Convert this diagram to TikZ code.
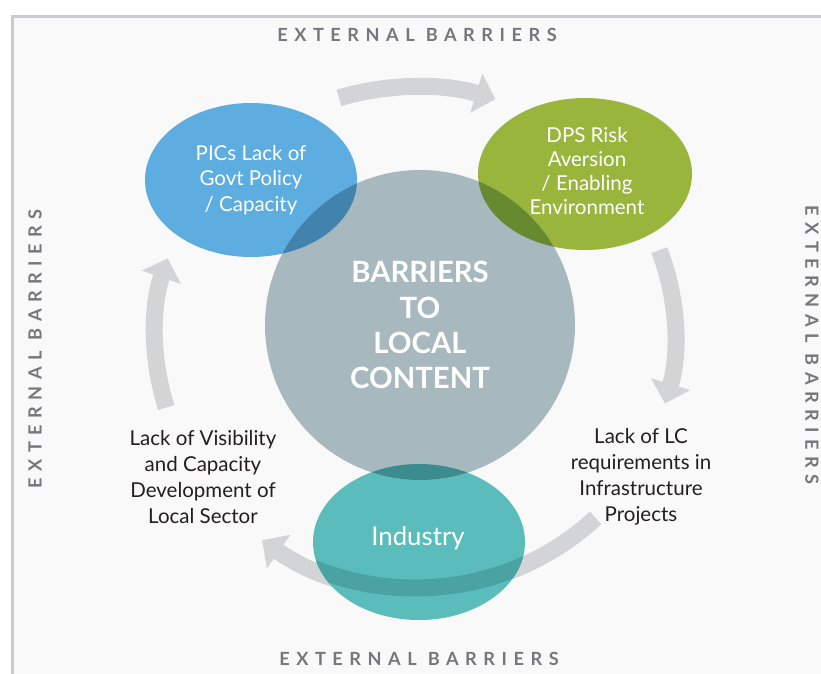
\documentclass[tikz,border=0pt]{standalone}
\usepackage{fontspec}
\setmainfont{Lato}
\newfontfamily\spacedfont[LetterSpace=36]{Lato}
\usetikzlibrary{arrows.meta}

\definecolor{framefill}{HTML}{F9F9F9}
\definecolor{framegray}{HTML}{CBCBCF}
\definecolor{titlegray}{HTML}{77777B}
\definecolor{arrowgray}{HTML}{D3D4D6}
\definecolor{picblue}{HTML}{5DADE0}
\definecolor{picbluedark}{HTML}{4283AD}
\definecolor{dpsgreen}{HTML}{9AB53B}
\definecolor{dpsgreendark}{HTML}{678A31}
\definecolor{industryteal}{HTML}{5BBDBB}
\definecolor{industrytealdark}{HTML}{3C8B8E}
\definecolor{industryband}{HTML}{4AA3A2}
\definecolor{barriergray}{HTML}{A8B8BF}
\definecolor{sidedark}{HTML}{231F20}

\tikzset{
  barrier/.style={font=\spacedfont\bfseries\fontsize{15.5}{18}\selectfont, text=titlegray},
  ringarrow/.style={draw=arrowgray, line width=0.51cm, -{Triangle[width=1.2cm,length=0.6cm]}},
  bubbletext/.style={align=center, text=white, font=\fontsize{17.5}{22}\selectfont},
  sidetext/.style={align=center, text=sidedark, font=\fontsize{17.5}{22.3}\selectfont},
}

\begin{document}
\begin{tikzpicture}[x=0.03cm, y=-0.03cm]

\useasboundingbox (0,0) rectangle (821,673);
\clip (0,0) rectangle (821,673);
\fill[white] (0,0) rectangle (821,673);
\draw[draw=framegray, fill=framefill, line width=0.09cm] (12,16) rectangle (840,700);

% ring of arrows
\draw[ringarrow, shift={(415,335)}] (-107:260 and 248) arc[start angle=-107, end angle=-72, x radius=260, y radius=248];
\draw[ringarrow, shift={(415,335)}] (-20:260 and 248) arc[start angle=-20, end angle=16, x radius=260, y radius=248];
\draw[ringarrow, shift={(415,338)}] (46:260 and 250) arc[start angle=46, end angle=126, x radius=260, y radius=250];
\draw[ringarrow, shift={(415,335)}] (163:260 and 248) arc[start angle=163, end angle=198, x radius=260, y radius=248];

% bubbles
\fill[picblue] (251,180) ellipse[x radius=106, y radius=77];
\fill[dpsgreen] (585,174) ellipse[x radius=107, y radius=76];
\fill[industryteal] (419,542) ellipse[x radius=106, y radius=78];
\fill[barriergray] (420,325) circle[radius=155];

% overlaps
\begin{scope}
\clip (420,325) circle[radius=155];
\fill[picbluedark] (251,180) ellipse[x radius=106, y radius=77];
\fill[dpsgreendark] (585,174) ellipse[x radius=107, y radius=76];
\fill[industrytealdark] (419,542) ellipse[x radius=106, y radius=78];
\end{scope}
\begin{scope}
\clip (419,542) ellipse[x radius=106, y radius=78];
\draw[draw=industryband, line width=0.51cm, shift={(415,338)}] (46:260 and 250) arc[start angle=46, end angle=130, x radius=260, y radius=250];
\end{scope}

% texts
\node[bubbletext] (pics) at (251,180) {PICs Lack of\\Govt Policy\\/ Capacity};
\node[bubbletext, font=\fontsize{17.5}{20.5}\selectfont] (dps) at (587,171) {DPS Risk\\Aversion\\/ Enabling\\Environment};
\node[bubbletext, font=\fontsize{22}{26}\selectfont] (industry) at (418,538) {Industry};
\node[align=center, text=white, font=\bfseries\fontsize{25}{30}\selectfont] (core) at (420,325) {BARRIERS\\TO\\LOCAL\\CONTENT};
\node[sidetext] (visibility) at (203,477) {Lack of Visibility\\and Capacity\\Development of\\Local Sector};
\node[sidetext] (requirements) at (641,477) {Lack of LC\\requirements in\\Infrastructure\\Projects};

\node[barrier] (topbar) at (417,35) {EXTERNAL BARRIERS};
\node[barrier] (bottombar) at (419,659) {EXTERNAL BARRIERS};
\node[barrier, rotate=90] (leftbar) at (35,349) {EXTERNAL BARRIERS};
\node[barrier, rotate=-90] (rightbar) at (812,345) {EXTERNAL BARRIERS};

\end{tikzpicture}
\end{document}
